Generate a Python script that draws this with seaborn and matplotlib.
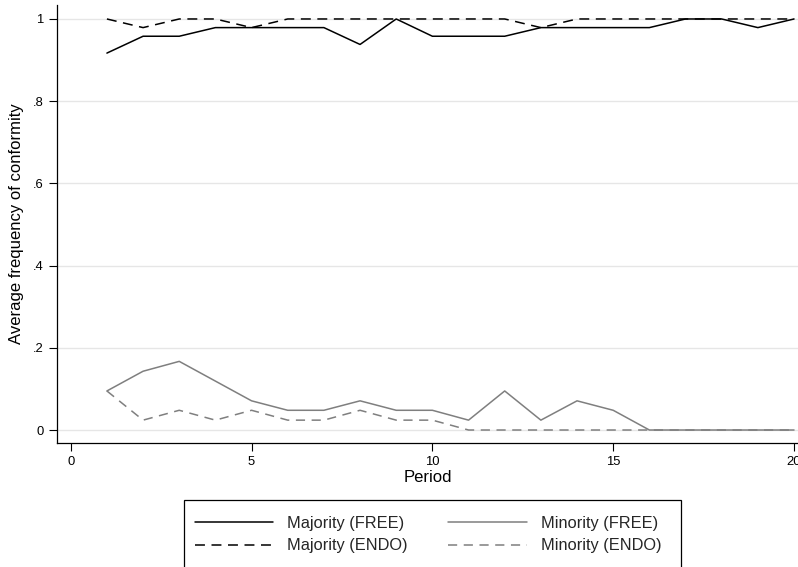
import numpy as np
import pandas as pd
import matplotlib
matplotlib.use("Agg")
import matplotlib.pyplot as plt
import seaborn as sns

# data
periods = list(range(1, 21))
majority_free = [0.917, 0.958, 0.958, 0.979, 0.979, 0.979, 0.979, 0.938, 1.0, 0.958,
                 0.958, 0.958, 0.979, 0.979, 0.979, 0.979, 1.0, 1.0, 0.979, 1.0]
majority_endo = [1.0, 0.979, 1.0, 1.0, 0.979, 1.0, 1.0, 1.0, 1.0, 1.0,
                 1.0, 1.0, 0.979, 1.0, 1.0, 1.0, 1.0, 1.0, 1.0, 1.0]
minority_free = [0.095, 0.143, 0.167, 0.119, 0.071, 0.048, 0.048, 0.071, 0.048, 0.048,
                 0.024, 0.095, 0.024, 0.071, 0.048, 0.0, 0.0, 0.0, 0.0, 0.0]
minority_endo = [0.095, 0.024, 0.048, 0.024, 0.048, 0.024, 0.024, 0.048, 0.024, 0.024,
                 0.0, 0.0, 0.0, 0.0, 0.0, 0.0, 0.0, 0.0, 0.0, 0.0]

series_labels = ["Majority (FREE)", "Majority (ENDO)", "Minority (FREE)", "Minority (ENDO)"]
x_ticks = [0, 5, 10, 15, 20]
y_ticks = [0, 0.2, 0.4, 0.6, 0.8, 1.0]
y_tick_labels = ["0", ".2", ".4", ".6", ".8", "1"]

df = pd.DataFrame({
    "period": periods * 4,
    "value": majority_free + majority_endo + minority_free + minority_endo,
    "series": np.repeat(series_labels, len(periods)),
})

sns.set_theme(style="white")
plt.rcParams["font.family"] = ["Liberation Sans", "DejaVu Sans"]

W, H = 798, 567
fig = plt.figure(figsize=(W / 100, H / 100), dpi=100)
ax = fig.add_axes([57 / W, 1 - 443 / H, 741 / W, 438 / H])

black, grey = "#000000", "#7f7f7f"
styles = {
    "Majority (FREE)": (black, "-"),
    "Majority (ENDO)": (black, (0, (6.5, 4.3))),
    "Minority (FREE)": (grey, "-"),
    "Minority (ENDO)": (grey, (0, (6.0, 4.3))),
}

# light horizontal grid
for yt in y_ticks:
    ax.axhline(yt, color="#e6e6e6", lw=1.0, zorder=0)

handles = {}
for name in series_labels:
    color, ls = styles[name]
    sub = df[df["series"] == name]
    sns.lineplot(data=sub, x="period", y="value", ax=ax, color=color,
                 linewidth=1.1, linestyle=ls, label=name, legend=False)
    handles[name] = ax.get_lines()[-1]

ax.set_xlim(-0.38, 20.11)
ax.set_ylim(-0.0316, 1.034)
ax.set_xticks(x_ticks)
ax.set_yticks(y_ticks)
ax.set_yticklabels(y_tick_labels)
ax.tick_params(axis="both", direction="out", length=5.8, width=0.8, color="black",
               labelsize=9.4, pad=3.8, labelcolor="black")
ax.tick_params(axis="x", bottom=True)
ax.tick_params(axis="y", left=True)

ax.set_xlabel("Period", fontsize=12, labelpad=1.5, color="black")
ax.set_ylabel("Average frequency of conformity", fontsize=12, labelpad=6, color="black")

for side in ["top", "right"]:
    ax.spines[side].set_visible(False)
for side in ["left", "bottom"]:
    ax.spines[side].set_color("black")
    ax.spines[side].set_linewidth(0.9)

# legend without its own frame, box drawn separately (runs off the bottom edge)
order = ["Majority (FREE)", "Majority (ENDO)", "Minority (FREE)", "Minority (ENDO)"]
leg = fig.legend([handles[n] for n in order], order, loc="upper center",
                 bbox_to_anchor=(428 / W, 1 - 516 / H), ncol=2, frameon=False,
                 borderaxespad=0, borderpad=0,
                 handlelength=4.8, handletextpad=0.85, columnspacing=2.45,
                 labelspacing=0.45, fontsize=11.8)
box = plt.Rectangle((184 / W, -0.02), (681 - 184) / W, (567 - 500) / H + 0.02,
                    transform=fig.transFigure, fill=False, edgecolor="black", lw=0.9)
fig.add_artist(box)

fig.savefig("out.png", dpi=100)
